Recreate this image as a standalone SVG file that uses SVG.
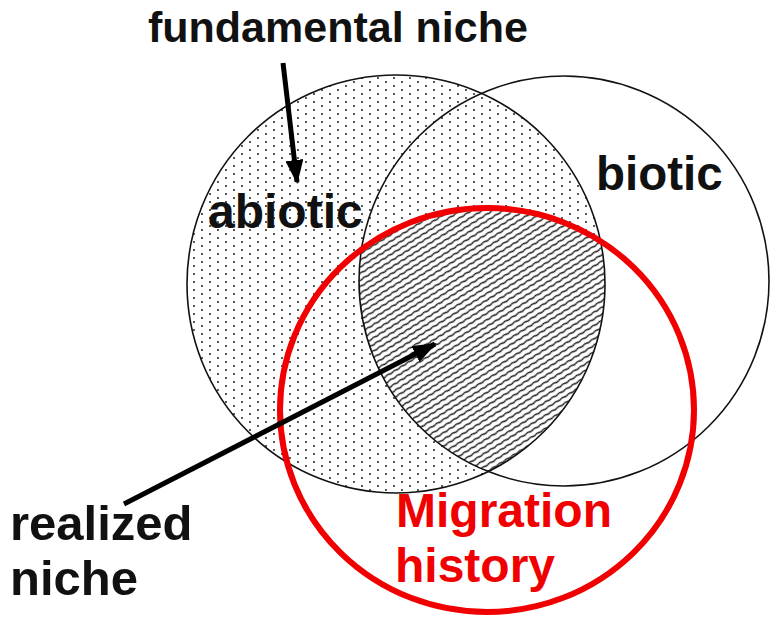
<svg xmlns="http://www.w3.org/2000/svg" width="770" height="619" viewBox="0 0 770 619">
<style>
.lbl{font-family:"Liberation Sans",Arial,sans-serif;font-weight:bold;fill:#111}
.red{fill:#f00000}
.ring{fill:none;stroke:#111;stroke-width:1.6}
.conn{stroke:#000;stroke-width:5;fill:none;stroke-linecap:butt}
</style>
<defs>
<pattern id="dots" patternUnits="userSpaceOnUse" width="16" height="8">
<rect width="16" height="8" fill="#fff"/>
<circle cx="2" cy="2" r="1" fill="#222"/>
<circle cx="10" cy="6" r="1" fill="#222"/>
</pattern>
<pattern id="hatch" patternUnits="userSpaceOnUse" width="8" height="5.6" patternTransform="rotate(-32)">
<rect width="8" height="5.6" fill="#fff"/>
<path d="M0 2.8 q2 -1.1 4 0 t4 0" stroke="#222" stroke-width="1.4" fill="none"/>
</pattern>
<clipPath id="cA"><circle cx="396" cy="284" r="209"/></clipPath>
<clipPath id="cB"><circle cx="564" cy="281" r="205"/></clipPath>
<clipPath id="cM"><ellipse cx="487" cy="410" rx="207" ry="202"/></clipPath>
<marker id="ah" markerUnits="userSpaceOnUse" markerWidth="24" markerHeight="18" refX="22" refY="9" orient="auto">
<path d="M0 0 L24 9 L0 18 z" fill="#000"/>
</marker>
</defs>
<rect width="770" height="619" fill="#fff"/>
<g id="fills">
<circle cx="396" cy="284" r="209" fill="url(#dots)"/>
<g clip-path="url(#cA)"><g clip-path="url(#cB)"><g clip-path="url(#cM)">
<rect x="0" y="0" width="770" height="619" fill="url(#hatch)"/>
</g></g></g>
</g>
<g id="abiotic">
<circle class="ring" cx="396" cy="284" r="209"/>
<text class="lbl" x="208" y="228" font-size="48">abiotic</text>
</g>
<g id="biotic">
<circle class="ring" cx="564" cy="281" r="205"/>
<text class="lbl" x="596" y="190" font-size="47.5">biotic</text>
</g>
<g id="migration">
<ellipse cx="487" cy="410" rx="207" ry="202" fill="none" stroke="#f00000" stroke-width="6"/>
<text class="lbl red" x="396" y="527" font-size="48">Migration</text>
<text class="lbl red" x="395" y="582" font-size="48">history</text>
</g>
<g id="fundamental-niche">
<text class="lbl" x="148" y="42" font-size="43">fundamental niche</text>
</g>
<g id="realized-niche">
<text class="lbl" x="10" y="540" font-size="49">realized</text>
<text class="lbl" x="10" y="595" font-size="49">niche</text>
</g>
<g id="connectors">
<line class="conn" x1="283" y1="63" x2="297" y2="182" marker-end="url(#ah)"/>
<line class="conn" x1="124" y1="504" x2="435" y2="344" marker-end="url(#ah)"/>
</g>
</svg>
